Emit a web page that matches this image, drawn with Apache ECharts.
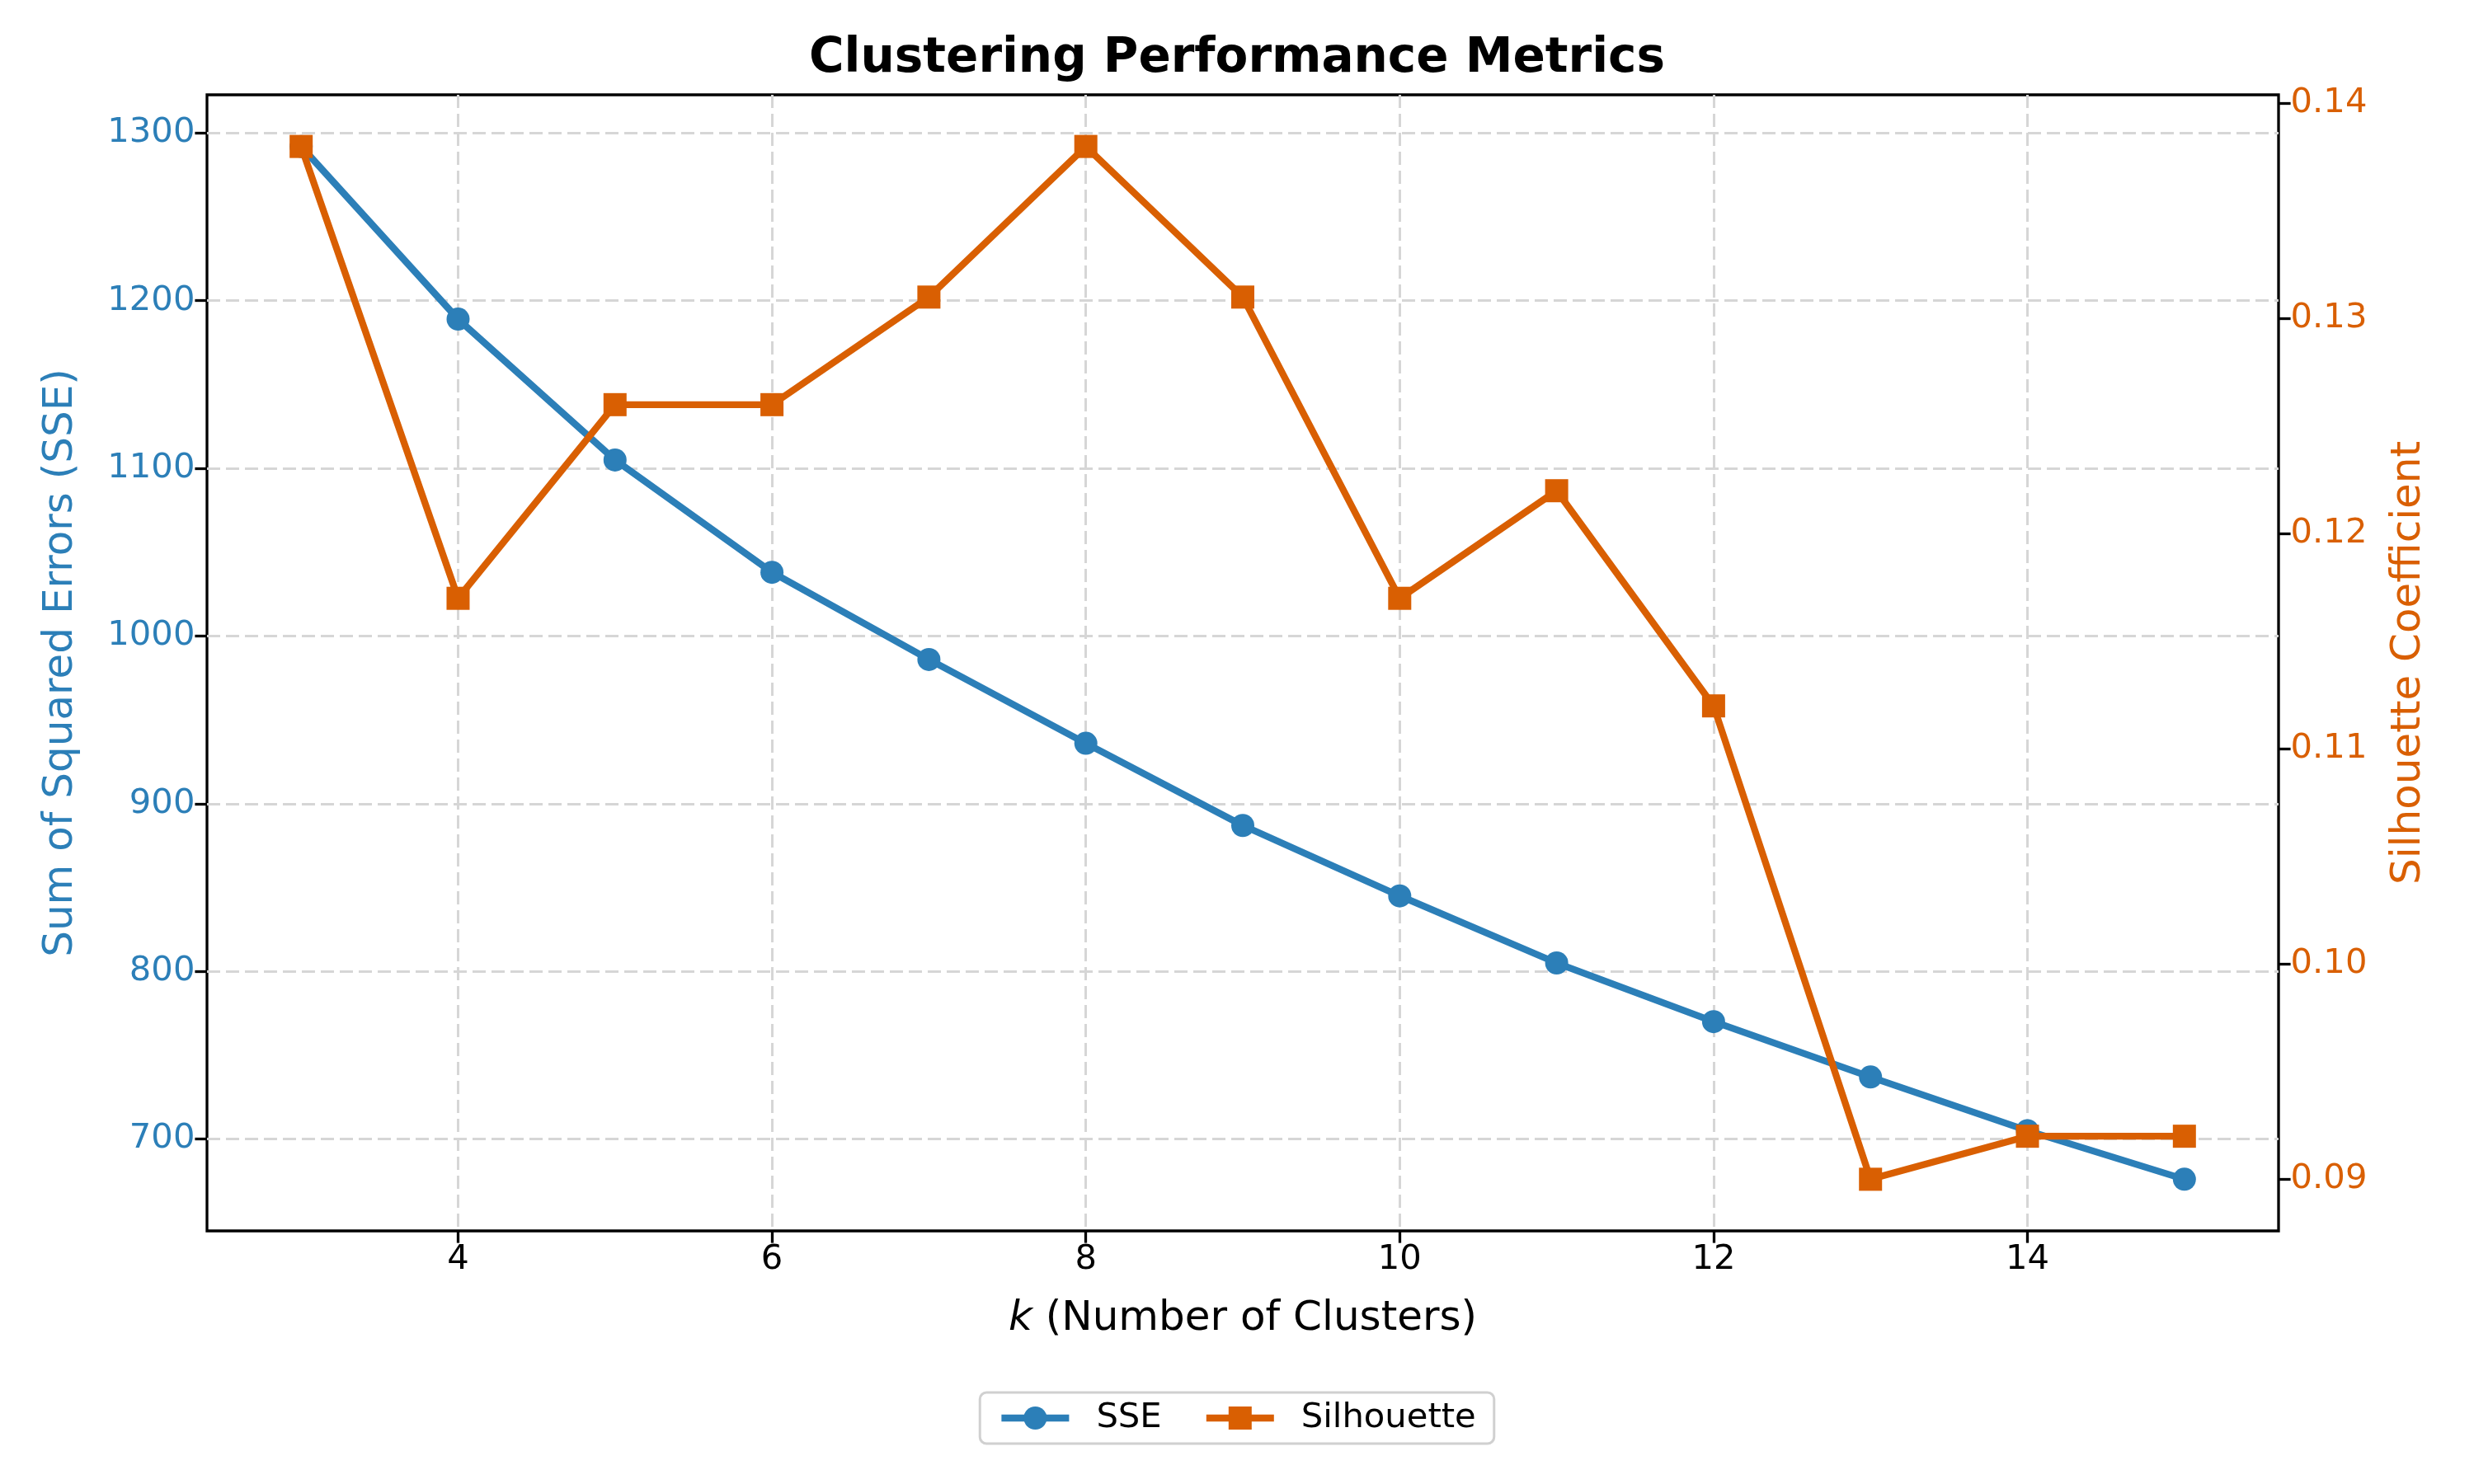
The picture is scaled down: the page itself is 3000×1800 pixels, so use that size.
<!DOCTYPE html>
<html lang="en">
<head>
    <meta charset="UTF-8">
    <title>Clustering Performance Metrics</title>
    <script src="https://cdn.jsdelivr.net/npm/echarts@6/dist/echarts.min.js"></script>
    <style>
        html, body { margin: 0; padding: 0; background: #fff; }
        #chart { width: 3000px; height: 1800px; }
    </style>
</head>
<body>
<div id="chart"></div>
<script type="text/javascript">
    // data
    var kValues = [3, 4, 5, 6, 7, 8, 9, 10, 11, 12, 13, 14, 15];
    var sseValues = [1292, 1189, 1105, 1038, 986, 936, 887, 845, 805, 770, 737, 705, 676];
    var silValues = [0.138, 0.117, 0.126, 0.126, 0.131, 0.138, 0.131, 0.117, 0.122, 0.112, 0.090, 0.092, 0.092];
    var xTicks = [4, 6, 8, 10, 12, 14];
    var sseTicks = [700, 800, 900, 1000, 1100, 1200, 1300];
    var silTicks = [0.09, 0.10, 0.11, 0.12, 0.13, 0.14];

    var blue = '#2C7FB8';
    var orange = '#D95F02';
    var font = 'DejaVu Sans';

    function pairs(ys) {
        return kValues.map(function (k, i) { return [k, ys[i]]; });
    }

    var myChart = echarts.init(document.getElementById('chart'));

    myChart.setOption({
        backgroundColor: '#fff',
        animation: false,
        textStyle: { fontFamily: font },
        title: {
            text: 'Clustering Performance Metrics',
            left: 'center',
            top: 38,
            textStyle: { fontFamily: font, fontSize: 58, fontWeight: 'bold', color: '#000' }
        },
        grid: {
            left: 251, right: 237, top: 115, bottom: 307,
            show: true, borderColor: '#000', borderWidth: 3.3
        },
        legend: {
            bottom: 49,
            left: 'center',
            itemWidth: 82,
            itemHeight: 35,
            itemGap: 50,
            padding: [10, 22, 10, 22],
            borderColor: '#d0d0d0',
            borderWidth: 3,
            borderRadius: 8,
            lineStyle: { width: 8.3 },
            textStyle: { fontFamily: font, fontSize: 41.7, color: '#000', padding: [0, 0, 0, 28] },
            data: ['SSE', 'Silhouette']
        },
        xAxis: {
            type: 'value',
            min: 2.4,
            max: 15.6,
            name: '{i|k} (Number of Clusters)',
            nameLocation: 'middle',
            nameGap: 82,
            nameTextStyle: {
                fontFamily: font, fontSize: 50, color: '#000',
                rich: { i: { fontFamily: font, fontSize: 50, fontStyle: 'italic', color: '#000' } }
            },
            axisLine: { show: false },
            axisTick: { show: true, customValues: xTicks, length: 14.6, lineStyle: { color: '#000', width: 3.3 } },
            axisLabel: { customValues: xTicks, margin: 14.6, fontFamily: font, fontSize: 41.7, color: '#000' },
            splitLine: { show: true, lineStyle: { color: '#d6d6d6', width: 3, type: [16, 7] } }
        },
        yAxis: [
            {
                type: 'value',
                min: 645.2,
                max: 1322.8,
                name: 'Sum of Squared Errors (SSE)',
                nameLocation: 'middle',
                nameGap: 152,
                nameRotate: 90,
                nameTextStyle: { fontFamily: font, fontSize: 50, color: blue },
                axisLine: { show: false },
                axisTick: { show: true, customValues: sseTicks, length: 14.6, lineStyle: { color: '#000', width: 3.3 } },
                axisLabel: {
                    customValues: sseTicks, margin: 14.6, fontFamily: font, fontSize: 41.7, color: blue,
                    formatter: function (v) { return String(v); }
                },
                splitLine: { show: true, lineStyle: { color: '#d6d6d6', width: 3, type: [16, 7] } }
            },
            {
                type: 'value',
                position: 'right',
                min: 0.0876,
                max: 0.1404,
                name: 'Silhouette Coefficient',
                nameLocation: 'middle',
                nameGap: 133,
                nameRotate: 90,
                nameTextStyle: { fontFamily: font, fontSize: 50, color: orange },
                axisLine: { show: false },
                axisTick: { show: true, customValues: silTicks, length: 14.6, lineStyle: { color: '#000', width: 3.3 } },
                axisLabel: {
                    customValues: silTicks, margin: 14.6, fontFamily: font, fontSize: 41.7, color: orange,
                    formatter: function (v) { return v.toFixed(2); }
                },
                splitLine: { show: false }
            }
        ],
        series: [
            {
                name: 'SSE',
                type: 'line',
                yAxisIndex: 0,
                data: pairs(sseValues),
                symbol: 'circle',
                symbolSize: 28,
                z: 2,
                itemStyle: { color: blue },
                lineStyle: { color: blue, width: 8.3 }
            },
            {
                name: 'Silhouette',
                type: 'line',
                yAxisIndex: 1,
                data: pairs(silValues),
                symbol: 'rect',
                symbolSize: 28,
                z: 3,
                itemStyle: { color: orange },
                lineStyle: { color: orange, width: 8.3 }
            }
        ]
    });
</script>
</body>
</html>
